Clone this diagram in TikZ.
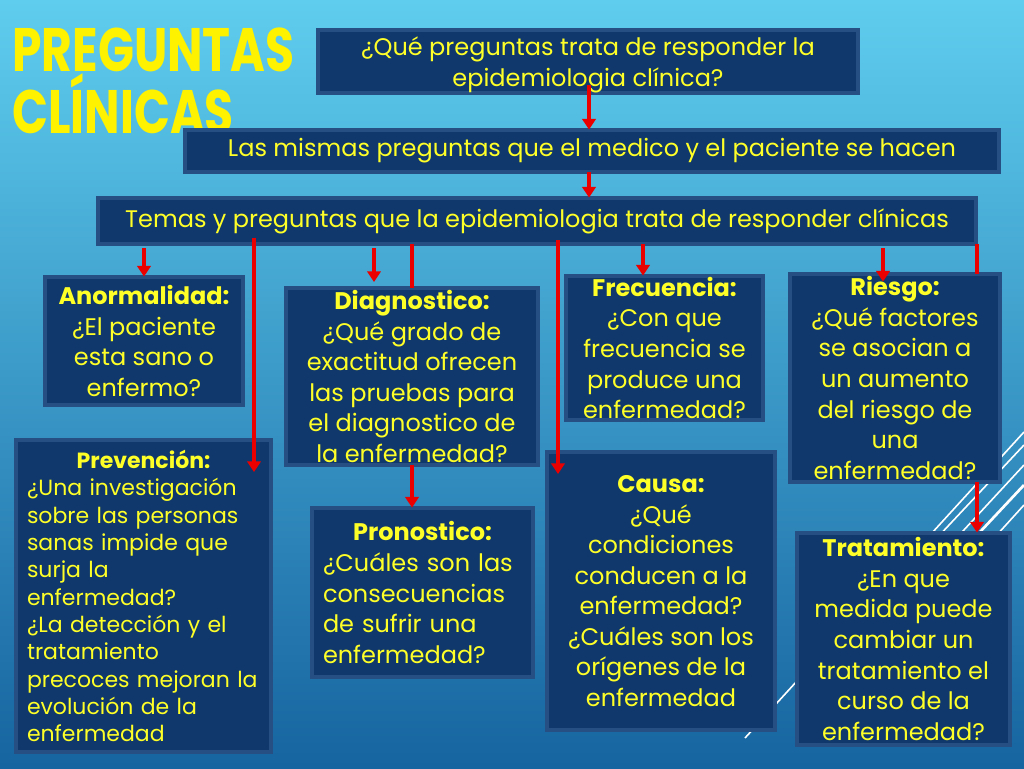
\documentclass[tikz,border=0pt]{standalone}
\usepackage{fontspec}
\setmainfont{Poppins}
\newfontfamily\titlefont[FakeStretch=0.77]{Poppins}
\usetikzlibrary{arrows.meta,positioning,calc}

\definecolor{bgtop}{RGB}{95,205,238}
\definecolor{bgbot}{RGB}{22,100,160}
\definecolor{boxfill}{RGB}{16,56,108}
\definecolor{boxedge}{RGB}{8,30,62}
\definecolor{bevel}{RGB}{38,80,132}
\definecolor{txtyel}{RGB}{255,255,40}
\definecolor{arrred}{RGB}{235,0,0}

\tikzset{
  qbox/.style 2 args={draw=boxedge, line width=0.6pt, double=bevel, double distance=2.5pt,
    fill=boxfill, inner sep=0pt, minimum width=#1*0.75pt, minimum height=#2*0.75pt,
    align=center, text=txtyel, font=\fontsize{18}{22.9}\selectfont},
  arr/.style={draw=arrred, line width=2.6pt, -{Triangle[width=10pt,length=8pt]}},
  lin/.style={draw=arrred, line width=2.6pt},
  deco/.style={draw=white, line width=1.2pt},
}

\begin{document}
\begin{tikzpicture}[x=0.75pt,y=-0.75pt]
% fondo
\shade[top color=bgtop, bottom color=bgbot] (0,0) rectangle (1024,768);
\useasboundingbox (0,0) rectangle (1024,768);
\draw[deco] (745,738) -- (1024,432);
\draw[deco] (935,540) -- (1024,445);
\draw[deco] (950,545) -- (1024,465);
\draw[deco, line width=2pt] (965,548) -- (1024,485);
\draw[deco] (985,548) -- (1024,505);

% titulo
\node[anchor=north west, align=left, text=yellow, inner sep=0pt,
  font=\fontsize{46}{41}\titlefont\bfseries] (titulo) at (12,28) {PREGUNTAS\\CLÍNICAS};

% cajas
\node[qbox={540}{63}] (preg) at (588,61.5) {\rule{0pt}{19.5pt}¿Qué preguntas trata de responder la\\epidemiologia clínica?};
\node[qbox={814}{42}] (mismas) at (592,151) {Las mismas preguntas que el medico y el paciente se hacen};
\node[qbox={878}{46}] (temas) at (537,221) {Temas y preguntas que la epidemiologia trata de responder clínicas};

\node[qbox={198}{128}] (anorm) at (144,341) {{\bfseries Anormalidad:}\\¿El paciente\\esta sano o\\enfermo?};
\node[qbox={252}{177}] (diag) at (412,376.5) {{\bfseries Diagnostico:}\\¿Qué grado de\\exactitud ofrecen\\las pruebas para\\el diagnostico de\\la enfermedad?};
\node[qbox={197}{144}] (frec) at (664.5,348) {{\bfseries Frecuencia:}\\¿Con que\\frecuencia se\\produce una\\enfermedad?};
\node[qbox={210}{208}] (riesgo) at (895,378) {{\bfseries Riesgo:}\\¿Qué factores\\se asocian a\\un aumento\\del riesgo de\\una\\enfermedad?};

\node[qbox={255}{312}, align=left, text width=233*0.75pt, font=\fontsize{16.5}{20.5}\selectfont] (prev) at (143.5,596)
  {\makebox[\linewidth]{\bfseries Prevención:}\\¿Una investigación\\sobre las personas\\sanas impide que\\surja la\\enfermedad?\\¿La detección y el\\tratamiento\\precoces mejoran la\\evolución de la\\enfermedad};
\node[qbox={221}{169}, align=left, text width=199*0.75pt] (prono) at (422.5,592.5)
  {\makebox[\linewidth]{\bfseries Pronostico:}\\¿Cuáles son las\\consecuencias\\de sufrir una\\enfermedad?};
\node[qbox={228}{278}] (causa) at (661,591) {{\bfseries Causa:}\\¿Qué\\condiciones\\conducen a la\\enfermedad?\\¿Cuáles son los\\orígenes de la\\enfermedad};
\node[qbox={213}{212}] (trat) at (903.5,639) {{\bfseries Tratamiento:}\\¿En que\\medida puede\\cambiar un\\tratamiento el\\curso de la\\enfermedad?};

% flechas
\coordinate (m1) at (589,85);
\coordinate (p1) at (254,472);
\coordinate (d1) at (374,282);
\coordinate (c1) at (558,474);
\coordinate (f1) at (643,0);
\coordinate (r1) at (883,0);
\coordinate (r2) at (977,0);

\draw[arr] (m1) -- (mismas.north -| m1);
\draw[arr] (mismas.south -| m1) -- (temas.north -| m1);
\draw[arr, shorten <=3pt] (temas.south -| anorm.north) -- (anorm.north);
\draw[arr] ([yshift=5pt]temas.south -| p1) -- (p1);
\draw[arr, shorten <=3pt] (temas.south -| d1) -- (d1);
\draw[lin] (temas.south -| diag.north) -- (diag.north);
\draw[arr] (diag.south) -- (diag.south |- prono.north);
\draw[arr] ([yshift=3pt]temas.south -| c1) -- (c1);
\draw[arr] (temas.south -| f1) -- (frec.north -| f1);
\draw[arr, shorten <=3pt] (temas.south -| r1) -- ([yshift=-6pt]riesgo.north -| r1);
\draw[lin] (temas.south -| r2) -- (riesgo.north -| r2);
\draw[arr] (riesgo.south -| r2) -- (trat.north -| r2);
\end{tikzpicture}
\end{document}
